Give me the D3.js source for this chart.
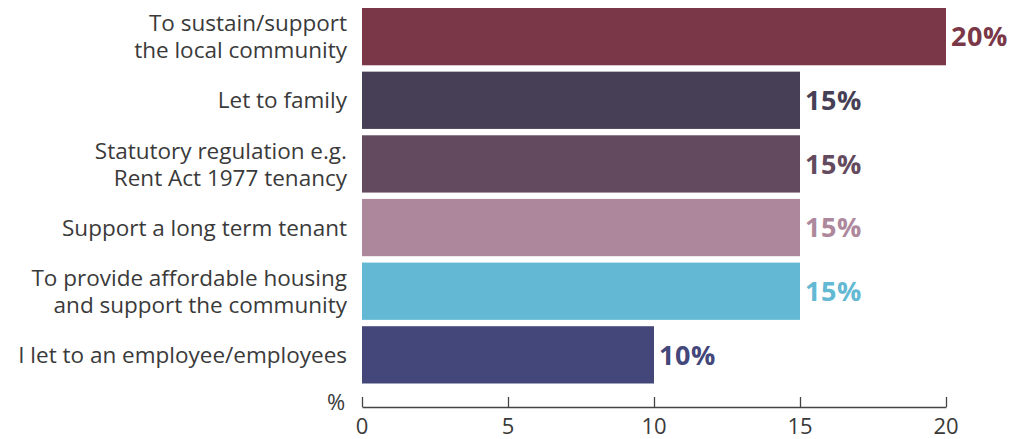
<!DOCTYPE html>
<html>
<head>
<meta charset="utf-8">
<script src="https://cdn.jsdelivr.net/npm/d3@7"></script>
<style>
  body { margin: 0; background: #fff; }
  text { font-family: "Open Sans", "Noto Sans", sans-serif; }
</style>
</head>
<body>
<div id="chart"></div>
<script>
// reasons, top to bottom
var categories = [
    ["To sustain/support", "the local community"],
    ["Let to family"],
    ["Statutory regulation e.g.", "Rent Act 1977 tenancy"],
    ["Support a long term tenant"],
    ["To provide affordable housing", "and support the community"],
    ["I let to an employee/employees"]
];
var values = [20, 15, 15, 15, 15, 10];
var colours = ["#7a3748", "#473f55", "#644a5e", "#ad889d", "#63b9d3", "#44477a"];
var ticks = [0, 5, 10, 15, 20];

var W = 1013, H = 439;
var svg = d3.select("#chart").append("svg")
    .attr("width", W)
    .attr("height", H);

var xScale = d3.scaleLinear()
    .domain([0, 20])
    .range([362, 946]);

var yScale = d3.scaleBand()
    .domain(d3.range(categories.length))
    .range([8, 383.5])
    .paddingInner(0.1)
    .paddingOuter(0);

// bars
svg.append("g")
    .selectAll("rect")
    .data(values)
    .join("rect")
        .attr("x", xScale(0))
        .attr("y", (d, i) => yScale(i))
        .attr("width", d => xScale(d) - xScale(0))
        .attr("height", yScale.bandwidth())
        .attr("fill", (d, i) => colours[i]);

// value labels
svg.append("g")
    .selectAll("text")
    .data(values)
    .join("text")
        .attr("x", d => xScale(d) + 5)
        .attr("y", (d, i) => yScale(i) + yScale.bandwidth() / 2)
        .attr("dy", "0.36em")
        .style("font-size", "27px")
        .style("font-weight", "bold")
        .style("letter-spacing", "0.5px")
        .attr("fill", (d, i) => colours[i])
        .text(d => d + "%");

// category labels
var lineH = 27;
var labels = svg.append("g")
    .selectAll("text")
    .data(categories)
    .join("text")
        .attr("text-anchor", "end")
        .style("font-size", "22.5px")
        .attr("fill", "#3a3a3a")
        .attr("transform", (d, i) => "translate(347," +
            (yScale(i) + yScale.bandwidth() / 2 - (d.length - 1) * lineH / 2) + ")");
labels.selectAll("tspan")
    .data(d => d)
    .join("tspan")
        .attr("x", 0)
        .attr("y", (d, j) => j * lineH)
        .attr("dy", "0.36em")
        .text(d => d);

// x axis, ticks pointing up
var axis = svg.append("g")
    .attr("transform", "translate(0,407)")
    .call(d3.axisTop(xScale).tickValues(ticks).tickSizeInner(10).tickSizeOuter(0).tickFormat(""));
axis.select(".domain").attr("stroke", "#444").attr("stroke-width", 1.3);
axis.selectAll(".tick line").attr("stroke", "#444").attr("stroke-width", 1.3);

svg.append("g")
    .selectAll("text")
    .data(ticks)
    .join("text")
        .attr("x", d => xScale(d))
        .attr("y", 426)
        .attr("dy", "0.36em")
        .attr("text-anchor", "middle")
        .style("font-size", "22px")
        .attr("fill", "#3a3a3a")
        .text(d => d);

svg.append("text")
    .attr("x", 336)
    .attr("y", 402)
    .attr("dy", "0.36em")
    .attr("text-anchor", "middle")
    .style("font-size", "22px")
    .attr("fill", "#3a3a3a")
    .text("%");
</script>
</body>
</html>
